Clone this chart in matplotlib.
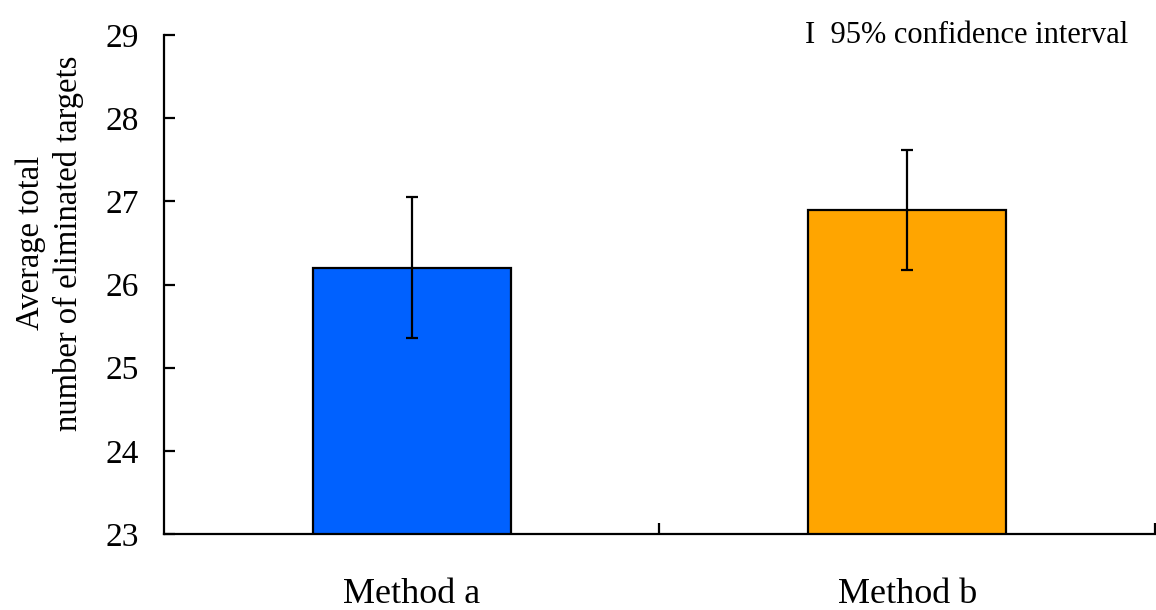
import matplotlib
matplotlib.use('Agg')
import matplotlib.pyplot as plt

### Data
methods = ['Method a', 'Method b']
mean_targets = [26.2, 26.9]
ci_lower = [25.36, 26.18]
ci_upper = [27.05, 27.62]
bar_colors = ['#0061FF', '#FFA500']

plt.rcParams['font.family'] = ['Liberation Serif', 'DejaVu Serif']

fig = plt.figure(figsize=(11.56, 6.10), dpi=100)
ax = fig.add_axes([0.142, 0.1246, 0.857, 0.818])

yerr = [[m - lo for m, lo in zip(mean_targets, ci_lower)],
        [hi - m for m, hi in zip(mean_targets, ci_upper)]]

ax.bar(range(len(methods)), mean_targets, width=0.4, bottom=0,
       color=bar_colors, edgecolor='black', linewidth=1.6, zorder=2)
ax.errorbar(range(len(methods)), mean_targets, yerr=yerr, fmt='none',
            ecolor='black', elinewidth=1.6, capsize=4.5, capthick=1.6, zorder=3)

ax.set_ylim(23, 29)
ax.set_xlim(-0.5, len(methods) - 0.5)
ax.set_yticks(range(23, 30))

# separator ticks between categories, labels at category centres
ax.set_xticks([i + 0.5 for i in range(len(methods))])
ax.set_xticklabels([])
ax.set_xticks(range(len(methods)), minor=True)
ax.set_xticklabels(methods, minor=True, fontsize=26)

ax.spines['top'].set_visible(False)
ax.spines['right'].set_visible(False)
ax.spines['left'].set_linewidth(1.6)
ax.spines['bottom'].set_linewidth(1.6)

ax.tick_params(axis='y', direction='in', length=8, width=1.6, labelsize=24, pad=18)
ax.tick_params(axis='x', which='major', direction='in', length=8, width=1.6)
ax.tick_params(axis='x', which='minor', length=0, pad=32)

ax.set_ylabel('Average total\nnumber of eliminated targets', fontsize=23.5,
              multialignment='center', linespacing=1.3)
ax.yaxis.set_label_coords(-0.081, 0.583)

ax.text(0.647, 1.0, 'I  95% confidence interval', transform=ax.transAxes,
        fontsize=22, ha='left', va='center')

fig.savefig('out.png', dpi=100)
